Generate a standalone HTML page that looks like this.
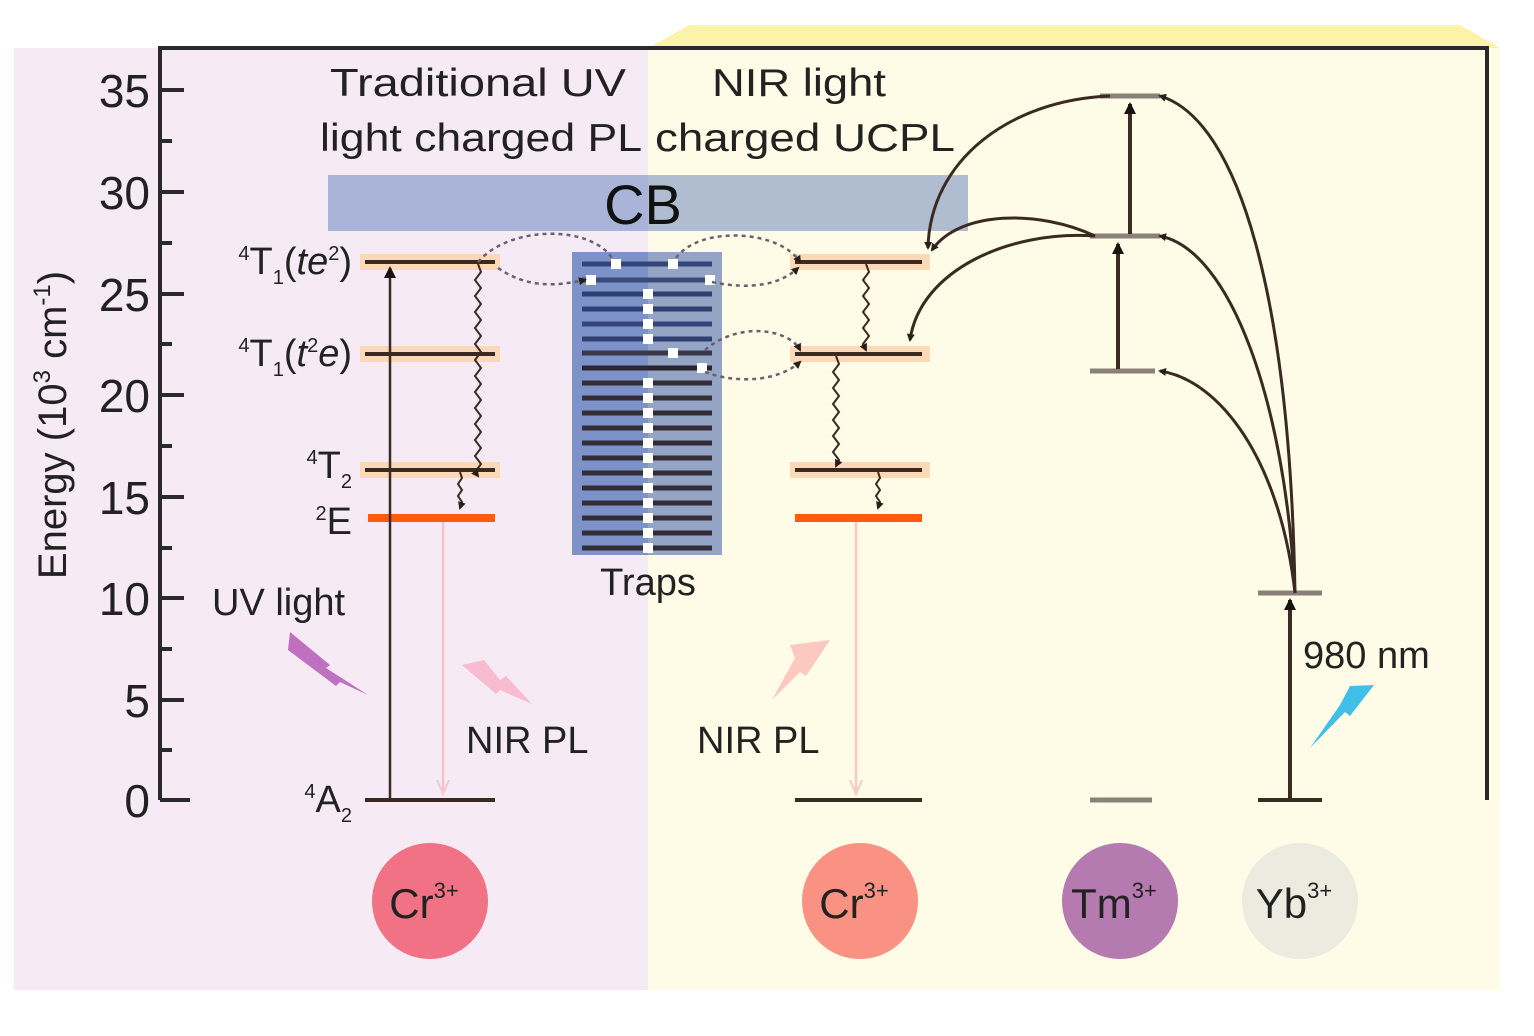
<!DOCTYPE html>
<html><head><meta charset="utf-8"><style>
html,body{margin:0;padding:0;background:#fff;}
svg{display:block;font-family:"Liberation Sans",sans-serif;}
</style></head><body>
<svg width="1534" height="1036" viewBox="0 0 1534 1036" xmlns="http://www.w3.org/2000/svg">
<defs>
<marker id="ah" markerWidth="8" markerHeight="8" refX="6" refY="4" orient="auto" markerUnits="userSpaceOnUse"><path d="M0,0 L8,4 L0,8 Z" fill="#2a1d1a"/></marker>
<marker id="ahb" markerWidth="14" markerHeight="14" refX="10" refY="7" orient="auto" markerUnits="userSpaceOnUse"><path d="M0,1 L12,7 L0,13 Z" fill="#1a1210"/></marker>
<marker id="ahp" markerWidth="16" markerHeight="16" refX="12" refY="8" orient="auto" markerUnits="userSpaceOnUse"><path d="M0,2 L14,8 L0,14" fill="none" stroke="#f8c8d0" stroke-width="2"/></marker>
</defs>
<rect x="0" y="0" width="1534" height="1036" fill="#fff"/>
<rect x="14" y="48" width="634" height="942" fill="#f6eaf4"/>
<polygon points="648,48 690,25 1460,25 1500,48 1500,990 648,990" fill="#fefce6"/>
<polygon points="690,25 1460,25 1500,48 648,48" fill="#fbf3a8"/>
<path d="M160,800 L160,48 L1487,48 L1487,800" fill="none" stroke="#2a2a2a" stroke-width="4"/>
<g stroke="#2a2a2a" stroke-width="4">
<line x1="160" y1="90" x2="184" y2="90"/><line x1="160" y1="192" x2="184" y2="192"/><line x1="160" y1="294" x2="184" y2="294"/><line x1="160" y1="395" x2="184" y2="395"/><line x1="160" y1="497" x2="184" y2="497"/><line x1="160" y1="598" x2="184" y2="598"/><line x1="160" y1="700" x2="184" y2="700"/><line x1="160" y1="800" x2="190" y2="800"/>
<line x1="160" y1="141" x2="172" y2="141"/><line x1="160" y1="243" x2="172" y2="243"/><line x1="160" y1="344" x2="172" y2="344"/><line x1="160" y1="446" x2="172" y2="446"/><line x1="160" y1="548" x2="172" y2="548"/><line x1="160" y1="649" x2="172" y2="649"/><line x1="160" y1="750" x2="172" y2="750"/>
</g>
<g font-size="46" fill="#222" text-anchor="end">
<text x="150" y="107">35</text><text x="150" y="209">30</text><text x="150" y="311">25</text><text x="150" y="412">20</text><text x="150" y="514">15</text><text x="150" y="615">10</text><text x="150" y="717">5</text><text x="150" y="817">0</text>
</g>
<text transform="translate(66,425) rotate(-90)" font-size="40" fill="#222" text-anchor="middle">Energy (10<tspan font-size="24" dy="-16">3</tspan><tspan dy="16"> cm</tspan><tspan font-size="24" dy="-16">-1</tspan><tspan dy="16">)</tspan></text>
<g font-size="39" fill="#222">
<text x="330" y="96" textLength="296" lengthAdjust="spacingAndGlyphs">Traditional  UV</text>
<text x="320" y="151" textLength="322" lengthAdjust="spacingAndGlyphs">light charged PL</text>
<text x="712" y="96" textLength="174" lengthAdjust="spacingAndGlyphs">NIR light</text>
<text x="655" y="151" textLength="300" lengthAdjust="spacingAndGlyphs">charged UCPL</text>
</g>
<rect x="328" y="175" width="320" height="56" fill="#a9b4d8"/>
<rect x="648" y="175" width="320" height="56" fill="#b0bccf"/>
<text x="643" y="224" font-size="56" fill="#111" text-anchor="middle">CB</text>
<rect x="572" y="252" width="76" height="303" fill="#7d92c8"/>
<rect x="648" y="252" width="74" height="303" fill="#94a4c4"/>
<g stroke-width="5">
<line x1="582" y1="264" x2="712" y2="264" stroke="#33457a"/>
<line x1="582" y1="280" x2="712" y2="280" stroke="#3a4a78"/>
<line x1="582" y1="294" x2="712" y2="294" stroke="#2e3f70"/>
<line x1="582" y1="309" x2="712" y2="309" stroke="#2e3f70"/>
<line x1="582" y1="324" x2="712" y2="324" stroke="#34447a"/>
<line x1="582" y1="339" x2="712" y2="339" stroke="#2e3f70"/>
<line x1="582" y1="353" x2="712" y2="353" stroke="#383848"/>
<line x1="582" y1="368" x2="712" y2="368" stroke="#2a2530"/>
<line x1="582" y1="383" x2="712" y2="383" stroke="#332d38"/>
<line x1="582" y1="398" x2="712" y2="398" stroke="#332d38"/>
<line x1="582" y1="413" x2="712" y2="413" stroke="#332d38"/>
<line x1="582" y1="428" x2="712" y2="428" stroke="#332d38"/>
<line x1="582" y1="443" x2="712" y2="443" stroke="#332d38"/>
<line x1="582" y1="458" x2="712" y2="458" stroke="#332d38"/>
<line x1="582" y1="473" x2="712" y2="473" stroke="#332d38"/>
<line x1="582" y1="488" x2="712" y2="488" stroke="#332d38"/>
<line x1="582" y1="503" x2="712" y2="503" stroke="#332d38"/>
<line x1="582" y1="518" x2="712" y2="518" stroke="#332d38"/>
<line x1="582" y1="533" x2="712" y2="533" stroke="#332d38"/>
<line x1="582" y1="548" x2="712" y2="548" stroke="#332d38"/>
</g>
<g fill="#fff">
<rect x="611" y="259" width="10" height="10"/><rect x="668" y="259" width="10" height="10"/>
<rect x="586" y="275" width="10" height="10"/><rect x="705" y="275" width="10" height="10"/>
<rect x="643" y="289" width="10" height="10"/><rect x="643" y="304" width="10" height="10"/><rect x="643" y="319" width="10" height="10"/><rect x="643" y="334" width="10" height="10"/>
<rect x="668" y="348" width="10" height="10"/><rect x="697" y="363" width="10" height="10"/>
<rect x="643" y="378" width="10" height="10"/><rect x="643" y="393" width="10" height="10"/><rect x="643" y="408" width="10" height="10"/><rect x="643" y="423" width="10" height="10"/><rect x="643" y="438" width="10" height="10"/><rect x="643" y="453" width="10" height="10"/><rect x="643" y="468" width="10" height="10"/><rect x="643" y="483" width="10" height="10"/><rect x="643" y="498" width="10" height="10"/><rect x="643" y="513" width="10" height="10"/><rect x="643" y="528" width="10" height="10"/><rect x="643" y="543" width="10" height="10"/>
</g>
<text x="648" y="595" font-size="38" fill="#222" text-anchor="middle">Traps</text>
<g fill="#fbd8b8">
<rect x="360" y="254" width="140" height="16"/><rect x="360" y="346" width="140" height="16"/><rect x="360" y="462" width="140" height="16"/>
<rect x="790" y="254" width="140" height="16"/><rect x="790" y="346" width="140" height="16"/><rect x="790" y="462" width="140" height="16"/>
</g>
<g stroke="#3a2a22" stroke-width="4">
<line x1="365" y1="262" x2="495" y2="262"/><line x1="365" y1="354" x2="495" y2="354"/><line x1="365" y1="470" x2="495" y2="470"/><line x1="365" y1="800" x2="495" y2="800"/>
<line x1="795" y1="262" x2="922" y2="262"/><line x1="795" y1="354" x2="922" y2="354"/><line x1="795" y1="470" x2="922" y2="470"/><line x1="795" y1="800" x2="922" y2="800"/>
</g>
<g stroke="#ff5a10" stroke-width="8">
<line x1="368" y1="518" x2="495" y2="518"/><line x1="795" y1="518" x2="922" y2="518"/>
</g>
<g font-size="38" fill="#222" text-anchor="end">
<text x="352" y="274"><tspan font-size="20" dy="-14">4</tspan><tspan dy="14">T</tspan><tspan font-size="20" dy="10">1</tspan><tspan dy="-10">(</tspan><tspan font-style="italic">te</tspan><tspan font-size="20" dy="-14">2</tspan><tspan dy="14">)</tspan></text>
<text x="352" y="366"><tspan font-size="20" dy="-14">4</tspan><tspan dy="14">T</tspan><tspan font-size="20" dy="10">1</tspan><tspan dy="-10">(</tspan><tspan font-style="italic">t</tspan><tspan font-size="20" dy="-14">2</tspan><tspan dy="14" font-style="italic">e</tspan>)</text>
<text x="352" y="478"><tspan font-size="20" dy="-14">4</tspan><tspan dy="14">T</tspan><tspan font-size="20" dy="10">2</tspan></text>
<text x="352" y="534"><tspan font-size="20" dy="-14">2</tspan><tspan dy="14">E</tspan></text>
<text x="352" y="812"><tspan font-size="20" dy="-14">4</tspan><tspan dy="14">A</tspan><tspan font-size="20" dy="10">2</tspan></text>
</g>
<line x1="390" y1="800" x2="390" y2="268" stroke="#3a2a22" stroke-width="2.5" marker-end="url(#ahb)"/>
<path d="M478,264 l3,8 l-6,8 l6,8 l-6,8 l6,8 l-6,8 l6,8 l-6,8 l6,8 l-6,8 l6,8 l-6,8 l6,8 l-6,8 l6,8 l-6,8 l6,8 l-6,8 l6,8 l-6,8 l6,8 l-6,8 l6,8 l-6,8 l6,8 l-6,8 l3,4" fill="none" stroke="#3a2a22" stroke-width="2" marker-end="url(#ah)"/>
<path d="M460,472 l2,6 l-4,6 l4,6 l-4,6 l4,6 l-2,6" fill="none" stroke="#3a2a22" stroke-width="2" marker-end="url(#ah)"/>
<line x1="443" y1="522" x2="443" y2="792" stroke="#f8c0cc" stroke-width="2.5" marker-end="url(#ahp)"/>
<path d="M866,264 l3,8 l-6,8 l6,8 l-6,8 l6,8 l-6,8 l6,8 l-6,8 l6,8 l-6,8 l3,6" fill="none" stroke="#3a2a22" stroke-width="2" marker-end="url(#ah)"/>
<path d="M836,356 l3,8 l-6,8 l6,8 l-6,8 l6,8 l-6,8 l6,8 l-6,8 l6,8 l-6,8 l6,8 l-6,8 l6,8 l-3,6" fill="none" stroke="#3a2a22" stroke-width="2" marker-end="url(#ah)"/>
<path d="M878,472 l2,6 l-4,6 l4,6 l-4,6 l4,6 l-2,6" fill="none" stroke="#3a2a22" stroke-width="2" marker-end="url(#ah)"/>
<line x1="856" y1="522" x2="856" y2="792" stroke="#fcc8c0" stroke-width="2.5" marker-end="url(#ahp)"/>
<g fill="none" stroke="#6a6070" stroke-width="2.5" stroke-dasharray="4,4">
<path d="M478,262 C510,225 590,225 612,258"/>
<path d="M498,268 C530,290 560,285 585,280" marker-end="url(#ah)"/>
<path d="M676,258 C700,225 780,230 800,262" marker-end="url(#ah)"/>
<path d="M712,282 C750,290 780,285 798,268" marker-end="url(#ah)"/>
<path d="M705,350 C740,320 790,330 800,350" marker-end="url(#ah)"/>
<path d="M705,372 C740,385 780,380 800,362" marker-end="url(#ah)"/>
</g>
<g stroke="#8a8078" stroke-width="5">
<line x1="1100" y1="96" x2="1160" y2="96"/><line x1="1090" y1="236" x2="1160" y2="236"/><line x1="1090" y1="371" x2="1155" y2="371"/><line x1="1090" y1="800" x2="1152" y2="800"/>
<line x1="1258" y1="593" x2="1322" y2="593"/>
</g>
<line x1="1258" y1="800" x2="1322" y2="800" stroke="#3a2a22" stroke-width="4"/>
<g stroke="#3a2a22" stroke-width="4">
<line x1="1130" y1="234" x2="1130" y2="104" marker-end="url(#ahb)"/>
<line x1="1118" y1="369" x2="1118" y2="244" marker-end="url(#ahb)"/>
<line x1="1290" y1="800" x2="1290" y2="600" marker-end="url(#ahb)"/>
</g>
<g fill="none" stroke="#3a2a22" stroke-width="3">
<path d="M1295,593 C1290,300 1240,120 1160,96" marker-end="url(#ah)"/>
<path d="M1295,593 C1285,400 1230,250 1160,236" marker-end="url(#ah)"/>
<path d="M1295,593 C1280,460 1220,380 1160,371" marker-end="url(#ah)"/>
<path d="M1110,96 C1010,100 930,160 928,248" marker-end="url(#ah)"/>
<path d="M1095,236 C1040,210 960,210 932,250" marker-end="url(#ah)"/>
<path d="M1095,236 C1010,230 920,270 910,340" marker-end="url(#ah)"/>
</g>
<polygon points="290,632 330,665 326,668 368,695 340,682 336,686 288,650" fill="#c070c0"/>
<polygon points="462,665 484,660 500,680 506,676 532,704 500,690 496,694" fill="#f8bcd0"/>
<polygon points="830,640 790,645 795,658 772,700 800,672 806,676" fill="#fcc8c0"/>
<polygon points="1374,685 1350,686 1340,705 1310,748 1345,712 1350,716" fill="#40c0e8"/>
<g font-size="38" fill="#222">
<text x="212" y="615">UV light</text>
<text x="466" y="753">NIR PL</text>
<text x="697" y="753">NIR PL</text>
<text x="1303" y="668">980 nm</text>
</g>
<circle cx="430" cy="901" r="58" fill="#f27285"/>
<circle cx="860" cy="901" r="58" fill="#f99282"/>
<circle cx="1120" cy="901" r="58" fill="#b57ab0"/>
<circle cx="1300" cy="901" r="58" fill="#ecebdf"/>
<g font-size="42" fill="#222" text-anchor="middle">
<text x="424" y="918">Cr<tspan font-size="22" dy="-20">3+</tspan></text>
<text x="854" y="918">Cr<tspan font-size="22" dy="-20">3+</tspan></text>
<text x="1114" y="918">Tm<tspan font-size="22" dy="-20">3+</tspan></text>
<text x="1294" y="918">Yb<tspan font-size="22" dy="-20">3+</tspan></text>
</g>
</svg>
</body></html>
